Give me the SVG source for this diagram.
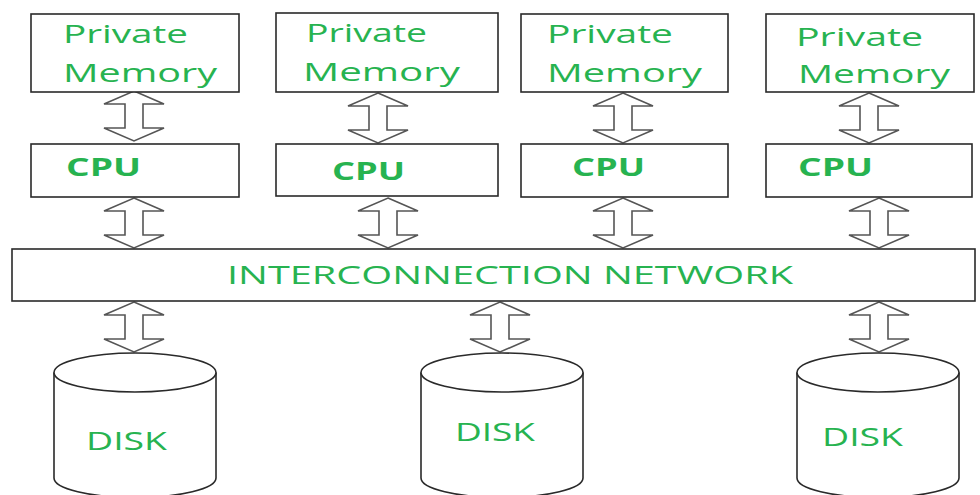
<svg xmlns="http://www.w3.org/2000/svg" xmlns:xlink="http://www.w3.org/1999/xlink" width="980" height="495" viewBox="0 0 980 495">
<style>
.box{fill:#fff;stroke:#2a2a2a;stroke-width:1.6}
.arr{fill:#fff;stroke:#555;stroke-width:1.6;stroke-linejoin:miter}
.disk{fill:#fff;stroke:#2a2a2a;stroke-width:1.6}
.t{font-family:"Open Sans","DejaVu Sans",sans-serif;font-size:26px;fill:#27b350}
.b{font-weight:bold;font-size:25px}
</style>
<defs>
<path id="dar" class="arr" d="M0,0 L30,13 L9,13 L9,37 L30,37 L0,50 L-30,37 L-9,37 L-9,13 L-30,13 Z"/>
</defs>
<g id="connectors">
<use xlink:href="#dar" href="#dar" x="134" y="91"/>
<use xlink:href="#dar" href="#dar" x="378" y="93"/>
<use xlink:href="#dar" href="#dar" x="623" y="93"/>
<use xlink:href="#dar" href="#dar" x="869" y="93"/>
<use xlink:href="#dar" href="#dar" x="134" y="198"/>
<use xlink:href="#dar" href="#dar" x="388" y="198"/>
<use xlink:href="#dar" href="#dar" x="623" y="198"/>
<use xlink:href="#dar" href="#dar" x="879" y="198"/>
<use xlink:href="#dar" href="#dar" x="134" y="302"/>
<use xlink:href="#dar" href="#dar" x="500" y="302"/>
<use xlink:href="#dar" href="#dar" x="879" y="302"/>
</g>
<g id="mem1"><rect class="box" x="31" y="14" width="208" height="78"/>
<text class="t" x="63" y="43" textLength="125" lengthAdjust="spacingAndGlyphs">Private</text>
<text class="t" x="63" y="82" textLength="154" lengthAdjust="spacingAndGlyphs">Memory</text></g>
<g id="mem2"><rect class="box" x="276" y="13" width="222" height="79"/>
<text class="t" x="306" y="42" textLength="121" lengthAdjust="spacingAndGlyphs">Private</text>
<text class="t" x="303" y="81" textLength="157" lengthAdjust="spacingAndGlyphs">Memory</text></g>
<g id="mem3"><rect class="box" x="521" y="14" width="207" height="78"/>
<text class="t" x="547" y="43" textLength="126" lengthAdjust="spacingAndGlyphs">Private</text>
<text class="t" x="547" y="82" textLength="155" lengthAdjust="spacingAndGlyphs">Memory</text></g>
<g id="mem4"><rect class="box" x="766" y="14" width="208" height="78"/>
<text class="t" x="796" y="46" textLength="127" lengthAdjust="spacingAndGlyphs">Private</text>
<text class="t" x="798" y="83" textLength="152" lengthAdjust="spacingAndGlyphs">Memory</text></g>
<g id="cpu1"><rect class="box" x="31" y="144" width="208" height="53"/>
<text class="t b" x="66" y="176" textLength="75" lengthAdjust="spacingAndGlyphs">CPU</text></g>
<g id="cpu2"><rect class="box" x="276" y="144" width="222" height="52"/>
<text class="t b" x="332" y="180" textLength="73" lengthAdjust="spacingAndGlyphs">CPU</text></g>
<g id="cpu3"><rect class="box" x="521" y="144" width="207" height="53"/>
<text class="t b" x="572" y="176" textLength="73" lengthAdjust="spacingAndGlyphs">CPU</text></g>
<g id="cpu4"><rect class="box" x="766" y="144" width="206" height="53"/>
<text class="t b" x="798" y="176" textLength="75" lengthAdjust="spacingAndGlyphs">CPU</text></g>
<g id="network"><rect class="box" x="12" y="249" width="963" height="52"/>
<text class="t" x="227" y="284" textLength="566" lengthAdjust="spacingAndGlyphs">INTERCONNECTION NETWORK</text></g>
<g id="disk1">
<path class="disk" d="M54,372.5 L54,478 A81,19.5 0 0 0 216,478 L216,372.5"/>
<ellipse class="disk" cx="135" cy="372.5" rx="81" ry="19.5"/>
<text class="t" x="86" y="450" textLength="81" lengthAdjust="spacingAndGlyphs">DISK</text></g>
<g id="disk2">
<path class="disk" d="M421,372.5 L421,478 A81,19.5 0 0 0 583,478 L583,372.5"/>
<ellipse class="disk" cx="502" cy="372.5" rx="81" ry="19.5"/>
<text class="t" x="455" y="441" textLength="80" lengthAdjust="spacingAndGlyphs">DISK</text></g>
<g id="disk3">
<path class="disk" d="M797,372.5 L797,478 A81,19.5 0 0 0 959,478 L959,372.5"/>
<ellipse class="disk" cx="878" cy="372.5" rx="81" ry="19.5"/>
<text class="t" x="822" y="446" textLength="81" lengthAdjust="spacingAndGlyphs">DISK</text></g>
</svg>
